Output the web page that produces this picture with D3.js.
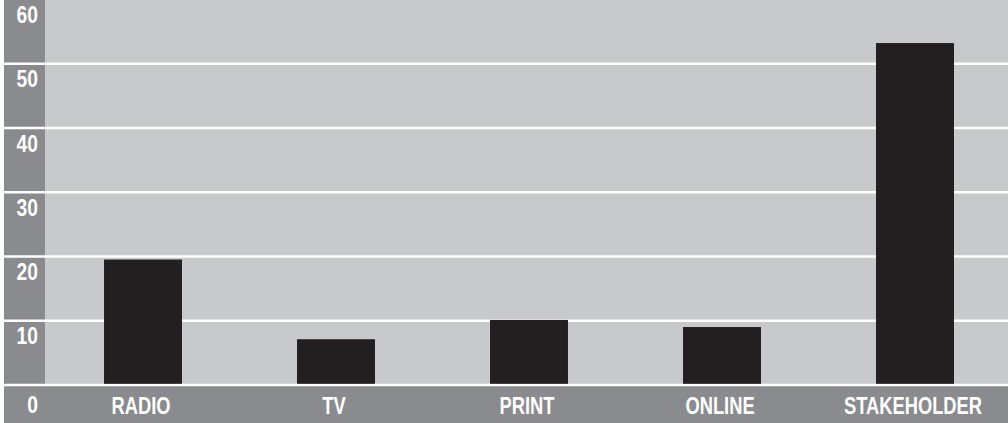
<!DOCTYPE html>
<html><head><meta charset="utf-8">
<script src="https://cdn.jsdelivr.net/npm/d3@7/dist/d3.min.js"></script>
<style>
html,body{margin:0;padding:0;background:#fff;}
svg{display:block;}
text{font-family:"Liberation Sans",Arial,sans-serif;font-weight:bold;fill:#fff;}
</style></head>
<body>
<script>
const categories = ["RADIO","TV","PRINT","ONLINE","STAKEHOLDER"];
const values = [19.6, 7.2, 10.2, 9.1, 53.3];
const yTicks = [0,10,20,30,40,50,60];

(function(){
const W = 1008, H = 423;
const svg = d3.select("body").append("svg").attr("width", W).attr("height", H);

const plotLeft = 45, stripX = 4, plotTop = 0, zeroY = 385.5;
const x = d3.scaleBand().domain(categories).range([46.5, 1011.5]).paddingInner(0.596).paddingOuter(0.298);
const y = d3.scaleLinear().domain([0, 60]).range([zeroY, plotTop]);

svg.append("rect").attr("x", plotLeft).attr("y", 0).attr("width", W-plotLeft).attr("height", zeroY).attr("fill", "#c8c9cb");
svg.append("rect").attr("x", stripX).attr("y", 0).attr("width", plotLeft-stripX).attr("height", H).attr("fill", "#8a8b8e");
svg.append("rect").attr("x", stripX).attr("y", zeroY).attr("width", W-stripX).attr("height", H-zeroY).attr("fill", "#8a8b8e");

svg.append("g").selectAll("line").data(yTicks.filter(t => t < 60)).join("line")
  .attr("x1", stripX).attr("x2", W)
  .attr("y1", d => y(d)-0.5).attr("y2", d => y(d)-0.5)
  .attr("stroke", "#fff").attr("stroke-width", 2.5);

svg.append("g").selectAll("rect").data(categories).join("rect")
  .attr("x", d => x(d)).attr("width", x.bandwidth())
  .attr("y", (d,i) => y(values[i])).attr("height", (d,i) => y(0) - y(values[i]) - 1.7)
  .attr("fill", "#231f20");

svg.append("g").selectAll("text").data(yTicks).join("text")
  .attr("transform", d => `translate(38,${y(d) + (d === 0 ? 27 : 23)}) scale(0.82,1)`)
  .attr("text-anchor", "end").attr("font-size", 23.5)
  .text(d => d);

svg.append("g").selectAll("text").data(categories).join("text")
  .attr("transform", d => `translate(${x(d) + x.bandwidth()/2 - 2},414) scale(0.78,1)`)
  .attr("text-anchor", "middle").attr("font-size", 23.5)
  .text(d => d);
})();
</script>
</body></html>
